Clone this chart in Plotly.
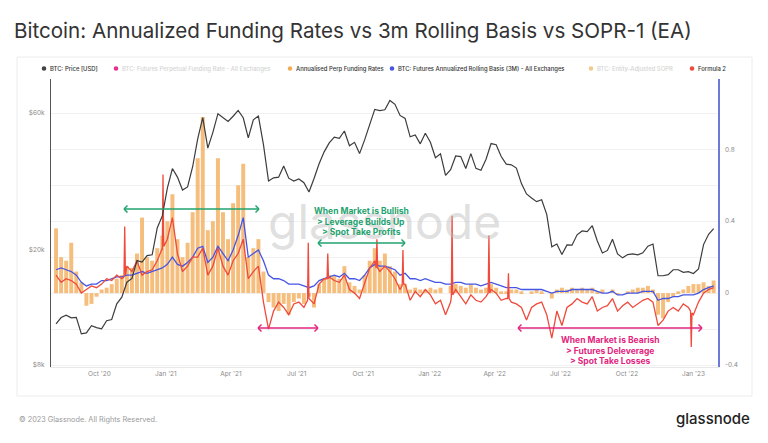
import plotly.graph_objects as go
import pandas as pd

# ---------------- data (weekly, Sundays) ----------------
week_start = '2020-08-02'
n_weeks = 131

price_usd = [
    11100, 11680, 11900, 11650, 11700, 10250, 10330, 10940, 10780, 10670, 11390, 11500, 13030,
    13740, 15480, 15960, 18400, 18190, 19150, 19270, 23870, 26280,
    32780, 38350, 35820, 32290, 33110, 38900, 48580, 57540, 45140, 51200, 59400, 57350, 55800,
    58200, 61000, 57500, 49000, 56600, 58300, 46400, 34700, 35600, 35800, 39100, 35500, 34700,
    35300, 34250, 31780, 35400, 39850, 43800, 47050, 49300, 48800, 51750, 46000, 47250, 43200,
    48200, 54900, 61500, 60900, 61300, 66000, 64000, 58600, 57200, 49400, 50100, 46700, 50800,
    47300, 41800, 43100, 36300, 38000, 42400, 42200, 38350, 43200, 38400, 37800, 41300, 46800,
    46400, 42200, 39700, 39500, 38500, 34000, 31300, 30300, 29450, 29900, 26600, 20550, 21000,
    19300, 20850, 20800, 22600, 23300, 23200, 24300, 21500, 19550, 19950, 21800, 19400, 18800,
    19300, 19400, 19250, 19570, 20630, 21000, 16300, 16300, 16450, 17100, 17100, 16750, 16840,
    16600, 17200, 20900, 22700, 23750,
]

annualised_perp_funding = [
    0.36, 0.20, 0.18, 0.28, 0.12, 0.06, -0.07, -0.06, -0.02, 0.02, 0.03, 0.05, 0.08,
    0.10, 0.15, 0.14, 0.22, 0.42, 0.20, 0.18, 0.25, 0.32,
    0.40, 0.55, 0.30, 0.20, 0.28, 0.45, 0.75, 0.98, 0.35, 0.40, 0.75, 0.45, 0.30,
    0.50, 0.60, 0.72, 0.20, 0.25, 0.30, 0.12, -0.05, -0.08, -0.10, -0.06, -0.12, -0.05,
    -0.03, -0.06, -0.02, -0.08, 0.05, 0.08, 0.10, 0.10, 0.08, 0.15, 0.06, 0.04, 0.02,
    0.10, 0.18, 0.25, 0.18, 0.22, 0.15, 0.12, 0.05, 0.05, 0.02, 0.03, 0.02, 0.02,
    0.03, 0.02, 0.03, 0.00, 0.04, 0.05, 0.04, 0.03, 0.05, 0.03, 0.02, 0.03, 0.05,
    0.03, 0.01, 0.01, 0.02, 0.02, 0.01, 0.00, 0.01, 0.02, 0.01, 0.00, -0.03, 0.02,
    0.03, 0.02, 0.03, 0.02, 0.03, 0.02, 0.03, 0.01, 0.02, 0.00, 0.02, -0.01, 0.00,
    0.01, 0.02, 0.03, 0.03, 0.04, 0.02, -0.12, -0.14, -0.05, -0.02, 0.01, 0.02, 0.04,
    0.05, 0.05, 0.06, 0.04, 0.07,
]

rolling_basis_3m = [
    0.13, 0.14, 0.13, 0.12, 0.10, 0.06, 0.04, 0.05, 0.05, 0.07, 0.07, 0.08, 0.09,
    0.09, 0.10, 0.10, 0.11, 0.12, 0.11, 0.12, 0.13, 0.14,
    0.16, 0.20, 0.16, 0.15, 0.17, 0.20, 0.25, 0.26, 0.17, 0.20, 0.26, 0.22, 0.18,
    0.24, 0.32, 0.42, 0.20, 0.22, 0.24, 0.18, 0.10, 0.08, 0.08, 0.07, 0.05, 0.05,
    0.05, 0.04, 0.03, 0.04, 0.07, 0.08, 0.09, 0.10, 0.09, 0.11, 0.08, 0.08, 0.07,
    0.10, 0.14, 0.16, 0.15, 0.15, 0.14, 0.13, 0.10, 0.11, 0.08, 0.08, 0.07, 0.08,
    0.07, 0.06, 0.06, 0.05, 0.05, 0.06, 0.06, 0.05, 0.05, 0.05, 0.04, 0.05, 0.06,
    0.05, 0.04, 0.03, 0.03, 0.03, 0.02, 0.02, 0.02, 0.02, 0.02, 0.01, 0.00, 0.01,
    0.01, 0.01, 0.02, 0.02, 0.02, 0.02, 0.02, 0.01, 0.00, 0.00, 0.01, -0.01, -0.01,
    0.00, 0.00, 0.00, 0.01, 0.01, 0.01, -0.04, -0.03, -0.03, -0.02, -0.02, -0.01, -0.01,
    -0.01, 0.00, 0.02, 0.03, 0.04,
]

formula_2 = [
    0.10, 0.06, 0.08, 0.07, 0.05, 0.00, 0.02, 0.04, 0.03, 0.05, 0.08, 0.07, 0.10,
    0.08, 0.15, 0.12, 0.18, 0.10, 0.12, 0.13, 0.18, 0.25,
    0.30, 0.42, 0.22, 0.12, 0.15, 0.20, 0.20, 0.25, 0.10, 0.15, 0.25, 0.15, 0.10,
    0.18, 0.22, 0.30, 0.08, 0.12, 0.15, -0.05, -0.20, -0.10, -0.05, -0.08, -0.12, -0.06,
    -0.05, -0.08, -0.03, -0.06, 0.05, 0.08, 0.09, 0.07, 0.06, 0.10, 0.02, 0.00, -0.03,
    0.05, 0.14, 0.18, 0.12, 0.15, 0.12, 0.08, 0.02, 0.05, -0.04, 0.01, -0.02, 0.02,
    -0.01, -0.06, -0.04, -0.12, -0.05, 0.02, -0.02, -0.06, -0.01, -0.04, -0.05, -0.02, 0.02,
    0.00, -0.04, -0.03, -0.05, -0.06, -0.08, -0.15, -0.08, -0.06, -0.05, -0.12, -0.25, -0.10,
    -0.18, -0.08, -0.06, -0.03, -0.05, -0.06, -0.02, -0.10, -0.08, -0.07, -0.03, -0.10, -0.07,
    -0.05, -0.08, -0.06, -0.04, -0.03, -0.05, -0.18, -0.15, -0.10, -0.08, -0.10, -0.06, -0.08,
    -0.12, -0.05, 0.00, 0.02, 0.03,
]

# single-day spikes of Formula 2 (day before, spike day, day after)
formula_2_spike_dates = [
    '2020-11-04', '2020-11-05', '2020-11-06',
    '2020-12-27', '2020-12-28', '2020-12-29',
    '2021-07-16', '2021-07-17', '2021-07-18',
    '2021-08-12', '2021-08-13', '2021-08-14',
    '2021-10-19', '2021-10-20', '2021-10-21',
    '2021-11-24', '2021-11-25', '2021-11-26',
    '2022-01-31', '2022-02-01', '2022-02-02',
    '2022-03-23', '2022-03-24', '2022-03-25',
    '2022-04-19', '2022-04-20', '2022-04-21',
    '2022-12-28', '2022-12-29', '2022-12-30',
]
formula_2_spike_vals = [
    0.09, 0.37, 0.10,
    0.24, 0.66, 0.26,
    -0.04, 0.28, -0.03,
    0.08, 0.22, 0.08,
    0.14, 0.30, 0.14,
    0.04, 0.24, 0.05,
    -0.02, 0.43, -0.01,
    0.00, 0.32, 0.00,
    -0.03, 0.11, -0.03,
    -0.10, -0.30, -0.11,
]

x_tick_dates = ['2020-10-01', '2021-01-01', '2021-04-01', '2021-07-01', '2021-10-01',
                '2022-01-01', '2022-04-01', '2022-07-01', '2022-10-01', '2023-01-01']
left_tick_vals = [8000, 20000, 60000]
left_tick_text = ['$8k', '$20k', '$60k']
right_tick_vals = [-0.4, 0, 0.4, 0.8]
right_tick_text = ['-0.4', '0', '0.4', '0.8']

# ---------------- build ----------------
dates = pd.date_range(week_start, periods=n_weeks, freq='7D')
red = pd.concat([
    pd.Series(formula_2, index=dates),
    pd.Series(formula_2_spike_vals, index=pd.to_datetime(formula_2_spike_dates)),
]).sort_index()

W, H = 768, 443
L, R, T, B = 51, 718, 79, 367


def px(x):
    return (x - L) / (R - L)


def py(y):
    return (B - y) / (B - T)


fig = go.Figure()
fig.add_trace(go.Bar(x=dates, y=annualised_perp_funding, name='Annualised Perp Funding Rates',
                     marker=dict(color='#F4B366', line=dict(width=0)), opacity=0.85,
                     yaxis='y', showlegend=False))
fig.add_trace(go.Scatter(x=dates, y=rolling_basis_3m, mode='lines',
                         name='BTC: Futures Annualized Rolling Basis (3M) - All Exchanges',
                         line=dict(color='#4656E4', width=1.3), yaxis='y', showlegend=False))
fig.add_trace(go.Scatter(x=red.index, y=red.values, mode='lines', name='Formula 2',
                         line=dict(color='#EF4A3B', width=1.3), yaxis='y', showlegend=False))
fig.add_trace(go.Scatter(x=dates, y=price_usd, mode='lines', name='BTC: Price [USD]',
                         line=dict(color='#3c3c3c', width=1.2), yaxis='y2', showlegend=False))

shapes = []
annotations = []

# panel border
shapes.append(dict(type='rect', xref='paper', yref='paper', x0=px(17), x1=px(752),
                   y0=py(396), y1=py(57), line=dict(color='#ececec', width=1), layer='below'))

FONT = 'Inter'

# title
annotations.append(dict(text='Bitcoin: Annualized Funding Rates vs 3m Rolling Basis vs SOPR-1 (EA)',
                        xref='paper', yref='paper', x=px(12), y=py(30), xanchor='left', yanchor='middle',
                        showarrow=False, font=dict(family=FONT, size=20.6, color='#333333')))

# legend (manual)
legend_items = [
    (44, '#444444', 'BTC: Price [USD]', '#333333'),
    (116, '#E8308F', 'BTC: Futures Perpetual Funding Rate - All Exchanges', '#d4d4d4'),
    (290, '#F2AC58', 'Annualised Perp Funding Rates', '#333333'),
    (392, '#4656E4', 'BTC: Futures Annualized Rolling Basis (3M) - All Exchanges', '#333333'),
    (591, '#F5C98E', 'BTC: Entity-Adjusted SOPR', '#d4d4d4'),
    (692, '#EF4A3B', 'Formula 2', '#333333'),
]
ly = 68.5
for cx, dcol, txt, tcol in legend_items:
    shapes.append(dict(type='circle', xref='paper', yref='paper', x0=px(cx - 2.3), x1=px(cx + 2.3),
                       y0=py(ly + 2.3), y1=py(ly - 2.3), fillcolor=dcol, line=dict(width=0)))
    annotations.append(dict(text=txt, xref='paper', yref='paper', x=px(cx + 3.5), y=py(ly),
                            xanchor='left', yanchor='middle', showarrow=False,
                            font=dict(family=FONT, size=5.9, color=tcol, weight=500)))

# watermark
annotations.append(dict(text='glassnode', xref='paper', yref='paper', x=px(384), y=py(221),
                        xanchor='center', yanchor='middle', showarrow=False,
                        font=dict(family=FONT, size=48, color='rgba(185,185,185,0.45)')))


def dbl_arrow(x0, x1, y, color):
    h = 3.5
    segs = [((x0, y), (x1, y)),
            ((x0, y), (x0 + h, y - h)), ((x0, y), (x0 + h, y + h)),
            ((x1, y), (x1 - h, y - h)), ((x1, y), (x1 - h, y + h))]
    for (a, b), (c, d) in segs:
        shapes.append(dict(type='line', xref='paper', yref='paper', x0=px(a), y0=py(b),
                           x1=px(c), y1=py(d), line=dict(color=color, width=1.5)))


GREEN = '#1FA36E'
PINK = '#E2257E'
dbl_arrow(124, 259, 209, GREEN)
dbl_arrow(318, 405, 243, GREEN)
dbl_arrow(258, 318, 328, PINK)
dbl_arrow(518, 702, 328, PINK)

for txt, yy in [('When Market is Bullish', 211), ('> Leverage Builds Up', 222), ('> Spot Take Profits', 232)]:
    annotations.append(dict(text=txt, xref='paper', yref='paper', x=px(361), y=py(yy),
                            xanchor='center', yanchor='middle', showarrow=False,
                            font=dict(family=FONT, size=8.5, color=GREEN, weight=700)))
for txt, yy in [('When Market is Bearish', 340), ('> Futures Deleverage', 351), ('> Spot Take Losses', 361)]:
    annotations.append(dict(text=txt, xref='paper', yref='paper', x=px(610), y=py(yy),
                            xanchor='center', yanchor='middle', showarrow=False,
                            font=dict(family=FONT, size=8.5, color=PINK, weight=700)))

# footer
annotations.append(dict(text='© 2023 Glassnode. All Rights Reserved.', xref='paper', yref='paper',
                        x=px(17), y=py(419), xanchor='left', yanchor='middle', showarrow=False,
                        font=dict(family=FONT, size=7.3, color='#9a9a9a')))
annotations.append(dict(text='glassnode', xref='paper', yref='paper',
                        x=px(752), y=py(418), xanchor='right', yanchor='middle', showarrow=False,
                        font=dict(family=FONT, size=15, color='#222222', weight=500)))

fig.update_layout(
    width=W, height=H,
    margin=dict(l=L, r=W - R, t=T, b=H - B, pad=0),
    paper_bgcolor='white', plot_bgcolor='white',
    bargap=0.22,
    showlegend=False,
    shapes=shapes, annotations=annotations,
    xaxis=dict(type='date', range=['2020-07-26', '2023-02-04'], tickvals=x_tick_dates,
               tickformat="%b '%y", showgrid=False, zeroline=False, showline=True,
               linecolor='#e8e8e8', linewidth=1, ticks='',
               tickfont=dict(family=FONT, size=6.5, color='#8a8a8a')),
    yaxis=dict(side='right', range=[-0.411, 1.191], tickvals=right_tick_vals, ticktext=right_tick_text,
               showline=True, linecolor='#6c7bd8', linewidth=1.5, zeroline=False,
               showgrid=True, gridcolor='#f1f1f1', gridwidth=1, ticks='',
               minor=dict(dtick=0.2, tick0=0, showgrid=True, gridcolor='#f1f1f1'),
               ticklabelstandoff=4,
               tickfont=dict(family=FONT, size=6.5, color='#8a8a8a')),
    yaxis2=dict(type='log', overlaying='y', side='left', range=[3.896, 4.894],
                tickvals=left_tick_vals, ticktext=left_tick_text,
                showline=True, linecolor='#555555', linewidth=1.2, zeroline=False,
                showgrid=False, ticks='', ticklabelstandoff=4,
                tickfont=dict(family=FONT, size=6.5, color='#8a8a8a')),
)

fig.write_html('out.html')
